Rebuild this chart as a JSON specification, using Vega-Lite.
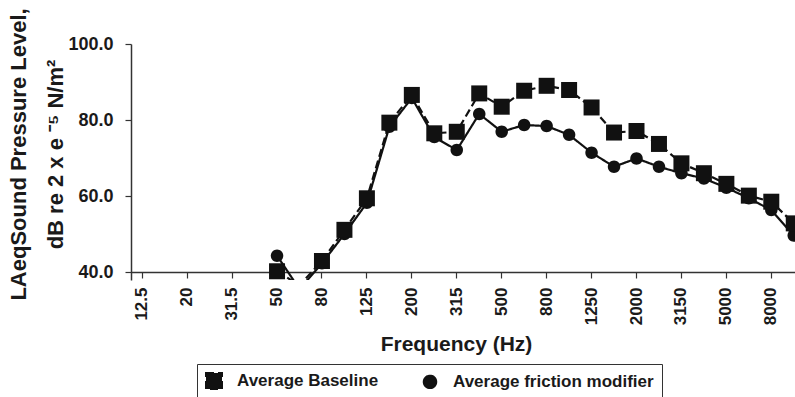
{
  "$schema": "https://vega.github.io/schema/vega-lite/v6.json",
  "autosize": "none",
  "padding": {"left": 131, "top": 44, "right": -10, "bottom": 117},
  "width": 674,
  "height": 236,
  "background": "white",
  "config": {
    "font": "Liberation Sans",
    "view": {"stroke": null},
    "axis": {
      "grid": false,
      "labelFont": "Liberation Sans",
      "labelFontWeight": "bold",
      "labelColor": "#1a1a1a",
      "titleFont": "Liberation Sans",
      "titleFontWeight": "bold",
      "titleColor": "#1a1a1a",
      "domainColor": "#333333",
      "domainWidth": 1.5,
      "tickColor": "#333333",
      "tickWidth": 1.2,
      "tickSize": 6
    },
    "axisX": {"labelAngle": 270, "labelFontSize": 17, "labelPadding": 9, "labelOverlap": false},
    "legend": {
      "labelFont": "Liberation Sans",
      "labelFontWeight": "bold",
      "labelColor": "#1a1a1a",
      "strokeColor": "#333333",
      "fillColor": "white"
    }
  },
  "data": {
    "values": [
      {"f": "50", "series": "Average friction modifier", "db": 44.3},
      {"f": "63", "series": "Average friction modifier", "db": 35.5},
      {"f": "80", "series": "Average friction modifier", "db": 42.3},
      {"f": "100", "series": "Average friction modifier", "db": 50.0},
      {"f": "125", "series": "Average friction modifier", "db": 58.2},
      {"f": "160", "series": "Average friction modifier", "db": 78.2},
      {"f": "200", "series": "Average friction modifier", "db": 85.8},
      {"f": "250", "series": "Average friction modifier", "db": 75.5},
      {"f": "315", "series": "Average friction modifier", "db": 72.1},
      {"f": "400", "series": "Average friction modifier", "db": 81.6},
      {"f": "500", "series": "Average friction modifier", "db": 76.9},
      {"f": "630", "series": "Average friction modifier", "db": 78.7},
      {"f": "800", "series": "Average friction modifier", "db": 78.4},
      {"f": "1000", "series": "Average friction modifier", "db": 76.1},
      {"f": "1250", "series": "Average friction modifier", "db": 71.4},
      {"f": "1600", "series": "Average friction modifier", "db": 67.7},
      {"f": "2000", "series": "Average friction modifier", "db": 69.9},
      {"f": "2500", "series": "Average friction modifier", "db": 67.7},
      {"f": "3150", "series": "Average friction modifier", "db": 66.0},
      {"f": "4000", "series": "Average friction modifier", "db": 64.6},
      {"f": "5000", "series": "Average friction modifier", "db": 62.2},
      {"f": "6300", "series": "Average friction modifier", "db": 59.4},
      {"f": "8000", "series": "Average friction modifier", "db": 56.3},
      {"f": "10000", "series": "Average friction modifier", "db": 49.6},
      {"f": "50", "series": "Average Baseline", "db": 40.2},
      {"f": "63", "series": "Average Baseline", "db": 36.5},
      {"f": "80", "series": "Average Baseline", "db": 42.9},
      {"f": "100", "series": "Average Baseline", "db": 51.1},
      {"f": "125", "series": "Average Baseline", "db": 59.4},
      {"f": "160", "series": "Average Baseline", "db": 79.3},
      {"f": "200", "series": "Average Baseline", "db": 86.6},
      {"f": "250", "series": "Average Baseline", "db": 76.5},
      {"f": "315", "series": "Average Baseline", "db": 76.9},
      {"f": "400", "series": "Average Baseline", "db": 87.0},
      {"f": "500", "series": "Average Baseline", "db": 83.5},
      {"f": "630", "series": "Average Baseline", "db": 87.7},
      {"f": "800", "series": "Average Baseline", "db": 89.0},
      {"f": "1000", "series": "Average Baseline", "db": 87.9},
      {"f": "1250", "series": "Average Baseline", "db": 83.3},
      {"f": "1600", "series": "Average Baseline", "db": 76.7},
      {"f": "2000", "series": "Average Baseline", "db": 77.1},
      {"f": "2500", "series": "Average Baseline", "db": 73.7},
      {"f": "3150", "series": "Average Baseline", "db": 68.6},
      {"f": "4000", "series": "Average Baseline", "db": 66.0},
      {"f": "5000", "series": "Average Baseline", "db": 63.2},
      {"f": "6300", "series": "Average Baseline", "db": 60.1},
      {"f": "8000", "series": "Average Baseline", "db": 58.5},
      {"f": "10000", "series": "Average Baseline", "db": 52.8}
    ]
  },
  "encoding": {
    "x": {
      "field": "f",
      "type": "nominal",
      "sort": null,
      "scale": {
        "type": "band",
        "domain": ["12.5","16","20","25","31.5","40","50","63","80","100","125","160","200","250","315","400","500","630","800","1000","1250","1600","2000","2500","3150","4000","5000","6300","8000","10000"],
        "paddingInner": 0,
        "paddingOuter": 0
      },
      "axis": {
        "title": "Frequency (Hz)",
        "titleFontSize": 21,
        "titleX": 325,
        "titleY": 78,
        "titleAlign": "center",
        "titleBaseline": "alphabetic",
        "offset": -8,
        "values": ["12.5","20","31.5","50","80","125","200","315","500","800","1250","2000","3150","5000","8000"],
        "labelAngle": 270,
        "labelFontSize": 17,
        "labelPadding": 9,
        "labelOverlap": false
      }
    },
    "y": {
      "field": "db",
      "type": "quantitative",
      "scale": {"domain": [37.9, 100], "nice": false, "zero": false},
      "axis": {
        "values": [40, 60, 80, 100],
        "format": ".1f",
        "labelFontSize": 18,
        "labelPadding": 12,
        "title": ["LAeqSound Pressure Level,", "dB re 2 x e ⁻⁵ N/m²"],
        "titleFontSize": 22,
        "titleLineHeight": 37,
        "titleAngle": -90,
        "titleX": -106,
        "titleY": 110,
        "titleAlign": "center",
        "titleBaseline": "alphabetic"
      }
    }
  },
  "layer": [
    {
      "mark": {"type": "line", "color": "#111111", "strokeWidth": 2.2, "clip": true},
      "encoding": {
        "strokeDash": {
          "field": "series",
          "type": "nominal",
          "scale": {"domain": ["Average Baseline", "Average friction modifier"], "range": [[8, 4], [1, 0]]}
        }
      }
    },
    {
      "transform": [{"filter": "datum.db >= 38"}],
      "mark": {"type": "point", "filled": true, "color": "#111111", "opacity": 1, "clip": true, "size": 256},
      "encoding": {
        "shape": {
          "field": "series",
          "type": "nominal",
          "scale": {
            "domain": ["Average Baseline", "Average friction modifier"],
            "range": ["M-1,-1H1V1H-1Z", "M-0.78,0A0.78,0.78 0 1,1 0.78,0A0.78,0.78 0 1,1 -0.78,0Z"]
          },
          "legend": {
            "title": null,
            "orient": "none",
            "legendX": 66,
            "legendY": 320,
            "direction": "horizontal",
            "columns": 2,
            "columnPadding": 40,
            "padding": 8,
            "symbolSize": 256,
            "symbolFillColor": "#111111",
            "symbolStrokeColor": "#111111",
            "symbolStrokeWidth": 2,
            "labelOffset": 14,
            "labelLimit": 0,
            "labelFontSize": 17
          }
        }
      }
    }
  ]
}
